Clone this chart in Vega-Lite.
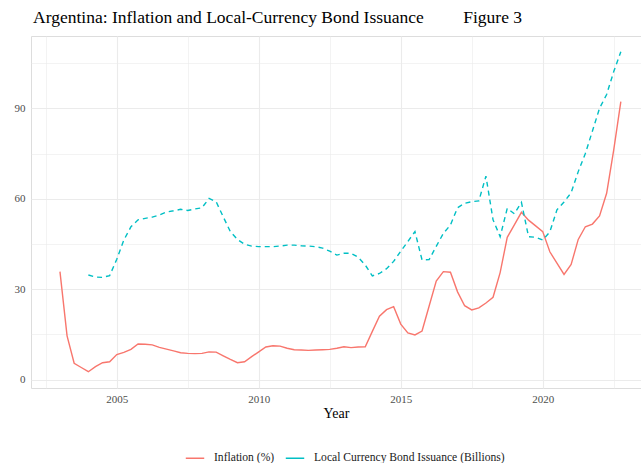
{
  "$schema": "https://vega.github.io/schema/vega-lite/v6.json",
  "width": 610,
  "height": 352,
  "autosize": {"type": "none"},
  "padding": {"left": 31, "top": 36, "right": 0, "bottom": 75},
  "background": "white",
  "title": {
    "text": "Argentina: Inflation and Local-Currency Bond Issuance\u00a0\u00a0\u00a0\u00a0\u00a0\u00a0\u00a0\u00a0\u00a0Figure 3",
    "anchor": "start",
    "frame": "group",
    "font": "Liberation Serif",
    "fontSize": 17.5,
    "fontWeight": "normal",
    "color": "#000000",
    "baseline": "alphabetic",
    "offset": 14,
    "dx": 2,
    "dy": 18
  },
  "data": {
    "values": [
      {"year": 2003.0, "inflation": 35.8},
      {"year": 2003.25, "inflation": 14.5},
      {"year": 2003.5, "inflation": 5.4},
      {"year": 2003.75, "inflation": 4.0},
      {"year": 2004.0, "inflation": 2.6, "bonds": 34.7},
      {"year": 2004.25, "inflation": 4.3, "bonds": 34.0},
      {"year": 2004.5, "inflation": 5.6, "bonds": 33.9},
      {"year": 2004.75, "inflation": 5.9, "bonds": 34.5},
      {"year": 2005.0, "inflation": 8.3, "bonds": 39.9},
      {"year": 2005.25, "inflation": 9.0, "bonds": 46.3},
      {"year": 2005.5, "inflation": 10.0, "bonds": 50.7},
      {"year": 2005.75, "inflation": 11.8, "bonds": 53.0},
      {"year": 2006.0, "inflation": 11.7, "bonds": 53.5},
      {"year": 2006.25, "inflation": 11.5, "bonds": 53.9},
      {"year": 2006.5, "inflation": 10.7, "bonds": 54.6},
      {"year": 2006.75, "inflation": 10.1, "bonds": 55.6},
      {"year": 2007.0, "inflation": 9.5, "bonds": 56.0},
      {"year": 2007.25, "inflation": 8.9, "bonds": 56.5},
      {"year": 2007.5, "inflation": 8.7, "bonds": 56.1},
      {"year": 2007.75, "inflation": 8.6, "bonds": 56.6},
      {"year": 2008.0, "inflation": 8.7, "bonds": 57.0},
      {"year": 2008.25, "inflation": 9.2, "bonds": 60.1},
      {"year": 2008.5, "inflation": 9.1, "bonds": 59.0},
      {"year": 2008.75, "inflation": 7.9, "bonds": 54.0},
      {"year": 2009.0, "inflation": 6.7, "bonds": 49.1},
      {"year": 2009.25, "inflation": 5.6, "bonds": 46.5},
      {"year": 2009.5, "inflation": 5.9, "bonds": 44.9},
      {"year": 2009.75, "inflation": 7.6, "bonds": 44.3},
      {"year": 2010.0, "inflation": 9.2, "bonds": 44.1},
      {"year": 2010.25, "inflation": 10.8, "bonds": 44.1},
      {"year": 2010.5, "inflation": 11.2, "bonds": 44.1},
      {"year": 2010.75, "inflation": 11.1, "bonds": 44.3},
      {"year": 2011.0, "inflation": 10.4, "bonds": 44.6},
      {"year": 2011.25, "inflation": 9.9, "bonds": 44.6},
      {"year": 2011.5, "inflation": 9.8, "bonds": 44.4},
      {"year": 2011.75, "inflation": 9.7, "bonds": 44.3},
      {"year": 2012.0, "inflation": 9.8, "bonds": 44.1},
      {"year": 2012.25, "inflation": 9.9, "bonds": 43.6},
      {"year": 2012.5, "inflation": 10.0, "bonds": 42.6},
      {"year": 2012.75, "inflation": 10.4, "bonds": 41.3},
      {"year": 2013.0, "inflation": 10.9, "bonds": 41.9},
      {"year": 2013.25, "inflation": 10.6, "bonds": 41.9},
      {"year": 2013.5, "inflation": 10.8, "bonds": 40.6},
      {"year": 2013.75, "inflation": 10.9, "bonds": 38.0},
      {"year": 2014.0, "inflation": 16.0, "bonds": 34.4},
      {"year": 2014.25, "inflation": 21.0, "bonds": 35.2},
      {"year": 2014.5, "inflation": 23.2, "bonds": 36.8},
      {"year": 2014.75, "inflation": 24.2, "bonds": 39.2},
      {"year": 2015.0, "inflation": 18.4, "bonds": 42.6},
      {"year": 2015.25, "inflation": 15.5, "bonds": 45.8},
      {"year": 2015.5, "inflation": 14.8, "bonds": 49.1},
      {"year": 2015.75, "inflation": 16.1, "bonds": 39.7},
      {"year": 2016.0, "inflation": 24.4, "bonds": 39.8},
      {"year": 2016.25, "inflation": 32.7, "bonds": 44.2},
      {"year": 2016.5, "inflation": 35.8, "bonds": 48.5},
      {"year": 2016.75, "inflation": 35.6, "bonds": 51.3},
      {"year": 2017.0, "inflation": 29.1, "bonds": 57.0},
      {"year": 2017.25, "inflation": 24.5, "bonds": 58.5},
      {"year": 2017.5, "inflation": 23.1, "bonds": 59.0},
      {"year": 2017.75, "inflation": 23.8, "bonds": 59.3},
      {"year": 2018.0, "inflation": 25.4, "bonds": 67.5},
      {"year": 2018.25, "inflation": 27.3, "bonds": 53.0},
      {"year": 2018.5, "inflation": 35.5, "bonds": 47.4},
      {"year": 2018.75, "inflation": 47.2, "bonds": 56.8},
      {"year": 2019.0, "inflation": 51.3, "bonds": 55.0},
      {"year": 2019.25, "inflation": 55.5, "bonds": 58.8},
      {"year": 2019.5, "inflation": 52.9, "bonds": 47.4},
      {"year": 2019.75, "inflation": 51.0, "bonds": 47.2},
      {"year": 2020.0, "inflation": 49.1, "bonds": 46.3},
      {"year": 2020.25, "inflation": 42.4, "bonds": 49.0},
      {"year": 2020.5, "inflation": 38.6, "bonds": 56.3},
      {"year": 2020.75, "inflation": 34.9, "bonds": 58.9},
      {"year": 2021.0, "inflation": 38.2, "bonds": 62.0},
      {"year": 2021.25, "inflation": 46.5, "bonds": 69.0},
      {"year": 2021.5, "inflation": 50.7, "bonds": 75.0},
      {"year": 2021.75, "inflation": 51.6, "bonds": 82.5},
      {"year": 2022.0, "inflation": 54.3, "bonds": 90.0},
      {"year": 2022.25, "inflation": 61.8, "bonds": 94.6},
      {"year": 2022.5, "inflation": 76.2, "bonds": 102.2},
      {"year": 2022.75, "inflation": 92.2, "bonds": 108.8}
    ]
  },
  "transform": [
    {"fold": ["inflation", "bonds"], "as": ["series", "value"]},
    {"filter": "isValid(datum.value)"}
  ],
  "encoding": {
    "x": {
      "field": "year",
      "type": "quantitative",
      "scale": {"domain": [2001.98, 2023.46], "nice": false, "zero": false},
      "axis": {
        "values": [2002.5, 2005, 2007.5, 2010, 2012.5, 2015, 2017.5, 2020, 2022.5],
        "labelExpr": "datum.value % 5 === 0 ? format(datum.value, 'd') : ''",
        "labelOverlap": false,
        "labelFlush": false,
        "ticks": false,
        "domain": false,
        "grid": true,
        "gridColor": "#EBEBEB",
        "gridWidth": {"condition": {"test": "datum.value % 5 === 0", "value": 1.1}, "value": 0.6},
        "labelFont": "Liberation Serif",
        "labelFontSize": 11,
        "labelColor": "#4D4D4D",
        "labelPadding": 5,
        "title": "Year",
        "titleFont": "Liberation Serif",
        "titleFontSize": 14,
        "titleFontWeight": "normal",
        "titleColor": "#000000",
        "titlePadding": 2
      }
    },
    "y": {
      "field": "value",
      "type": "quantitative",
      "scale": {"domain": [-2.8, 114.0], "nice": false, "zero": false},
      "axis": {
        "values": [0, 15, 30, 45, 60, 75, 90, 105],
        "labelExpr": "datum.value % 30 === 0 ? format(datum.value, 'd') : ''",
        "labelOverlap": false,
        "labelFlush": false,
        "ticks": false,
        "domain": false,
        "grid": true,
        "gridColor": "#EBEBEB",
        "gridWidth": {"condition": {"test": "datum.value % 30 === 0", "value": 1.1}, "value": 0.6},
        "labelFont": "Liberation Serif",
        "labelFontSize": 11,
        "labelColor": "#4D4D4D",
        "labelPadding": 6,
        "title": null
      }
    },
    "color": {
      "field": "series",
      "type": "nominal",
      "scale": {"domain": ["inflation", "bonds"], "range": ["#F8766D", "#00BFC4"]},
      "legend": {
        "orient": "none",
        "direction": "horizontal",
        "legendX": 154,
        "legendY": 412,
        "title": null,
        "symbolType": "stroke",
        "symbolSize": 340,
        "symbolStrokeWidth": 1.5,
        "symbolDash": [1, 0],
        "labelExpr": "datum.label === 'inflation' ? 'Inflation (%)' : 'Local Currency Bond Issuance (Billions)'",
        "labelFont": "Liberation Serif",
        "labelFontSize": 11.6,
        "labelColor": "#1A1A1A",
        "labelOffset": 9,
        "columnPadding": 7,
        "labelLimit": 400
      }
    }
  },
  "layer": [
    {
      "transform": [{"filter": "datum.series === 'inflation'"}],
      "mark": {"type": "line", "strokeWidth": 1.4, "clip": true}
    },
    {
      "transform": [{"filter": "datum.series === 'bonds'"}],
      "mark": {"type": "line", "strokeWidth": 1.4, "strokeDash": [5, 4], "clip": true}
    }
  ]
}
